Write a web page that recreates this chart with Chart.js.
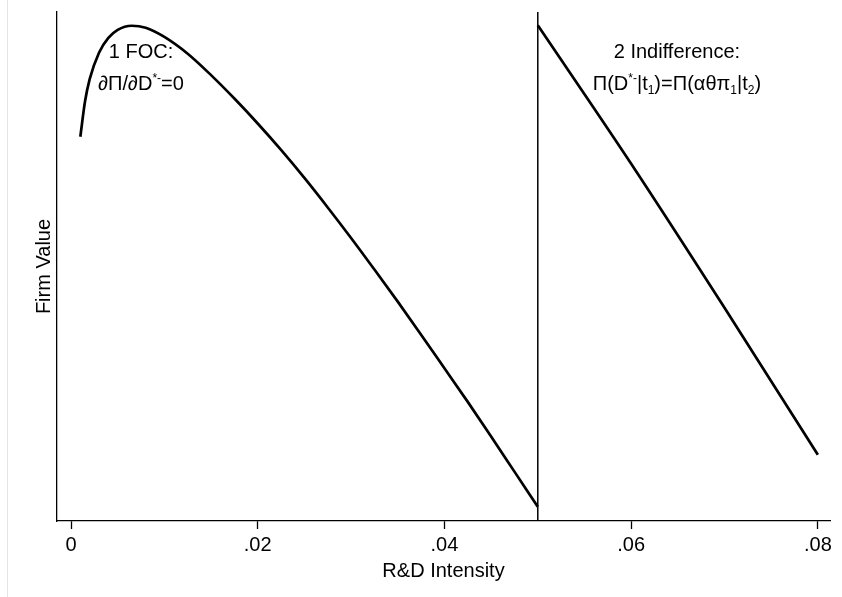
<!DOCTYPE html>
<html>
<head>
<meta charset="utf-8">
<title>Firm Value vs R&D Intensity</title>
<script src="https://cdn.jsdelivr.net/npm/chart.js@4/dist/chart.umd.min.js"></script>
<style>
  html, body { margin: 0; padding: 0; background: #fff; }
  canvas { display: block; }
</style>
</head>
<body>
<canvas id="grafico" width="842" height="597"></canvas>
<script>
// tick marks on the x axis
const xTicks = [0, 0.02, 0.04, 0.06, 0.08];
const xTickLabels = ['0', '.02', '.04', '.06', '.08'];

// 1 FOC curve
const focX = [0.0010, 0.0015, 0.0020, 0.0030, 0.0040, 0.0050, 0.0065, 0.0080, 0.0100,
              0.0125, 0.0150, 0.0175, 0.0200, 0.0225, 0.0250, 0.0275, 0.0300, 0.0325,
              0.0350, 0.0375, 0.0400, 0.0425, 0.0450, 0.0475, 0.0500];
const focY = [75.5, 82.4, 86.8, 92.0, 94.9, 96.5, 97.3, 96.9, 95.1,
              91.8, 87.6, 83.0, 78.1, 72.9, 67.4, 61.6, 55.6, 49.4,
              43.1, 36.6, 30.0, 23.4, 16.6, 9.7, 2.8];

// 2 Indifference line
const indX = [0.05, 0.06, 0.07, 0.08];
const indY = [97.4, 70.2, 41.9, 13.0];

// cutoff at .05
const cutX = [0.05, 0.05];
const cutY = [0, 100];

// notes: position in data units, lines made of rich text pieces
const notaFoc = { x: 0.0075, y: 89.2, lines: [
  [['1 FOC:', '']],
  [['∂Π/∂D', ''], ['*-', 'sup'], ['=0', '']]
]};
const notaInd = { x: 0.0649, y: 89.2, lines: [
  [['2 Indifference:', '']],
  [['Π(D', ''], ['*-', 'sup'], ['|t', ''], ['1', 'sub'], [')=Π(αθπ', ''], ['1', 'sub'], ['|t', ''], ['2', 'sub'], [')', '']]
]};

const fuente = '"Liberation Sans", Arial, Helvetica, sans-serif';

function puntos(xs, ys) {
  return xs.map((x, i) => ({ x: x, y: ys[i] }));
}

// draw the two text notes at data positions
const notasPlugin = {
  id: 'notas',
  afterDatasetsDraw(chart) {
    const ctx = chart.ctx;
    const sx = chart.scales.x, sy = chart.scales.y;
    [notaFoc, notaInd].forEach(n => {
      const cx = sx.getPixelForValue(n.x);
      const cy = sy.getPixelForValue(n.y);
      const lineGap = 32;
      const base0 = cy - lineGap / 2 + 7;
      n.lines.forEach((partes, li) => {
        ctx.save();
        ctx.fillStyle = '#000';
        ctx.textBaseline = 'alphabetic';
        ctx.textAlign = 'left';
        let total = 0;
        partes.forEach(([t, tipo]) => {
          ctx.font = (tipo ? '12px ' : '20px ') + fuente;
          total += ctx.measureText(t).width;
        });
        let x = cx - total / 2;
        const base = base0 + li * lineGap;
        partes.forEach(([t, tipo]) => {
          ctx.font = (tipo ? '12px ' : '20px ') + fuente;
          let dy = 0;
          if (tipo === 'sup') dy = -8;
          if (tipo === 'sub') dy = 4;
          ctx.fillText(t, x, base + dy);
          x += ctx.measureText(t).width;
        });
        ctx.restore();
      });
    });
  }
};

// faint outer border on the left, as in the original
const bordePlugin = {
  id: 'borde',
  beforeDraw(chart) {
    const ctx = chart.ctx;
    ctx.save();
    ctx.fillStyle = '#fff';
    ctx.fillRect(0, 0, chart.width, chart.height);
    ctx.strokeStyle = '#e4e4e4';
    ctx.lineWidth = 1;
    ctx.beginPath();
    ctx.moveTo(7.5, 0);
    ctx.lineTo(7.5, chart.height);
    ctx.stroke();
    ctx.restore();
  }
};

new Chart(document.getElementById('grafico'), {
  type: 'scatter',
  data: {
    datasets: [
      {
        label: '1 FOC',
        data: puntos(focX, focY),
        showLine: true,
        borderColor: '#000',
        borderWidth: 2.7,
        pointRadius: 0,
        cubicInterpolationMode: 'monotone'
      },
      {
        label: '2 Indifference',
        data: puntos(indX, indY),
        showLine: true,
        borderColor: '#000',
        borderWidth: 2.7,
        pointRadius: 0,
        cubicInterpolationMode: 'monotone'
      },
      {
        label: 'cutoff',
        data: puntos(cutX, cutY),
        showLine: true,
        borderColor: '#000',
        borderWidth: 1.5,
        pointRadius: 0,
        tension: 0
      }
    ]
  },
  options: {
    responsive: false,
    animation: false,
    devicePixelRatio: 1,
    layout: { padding: { left: 0, right: 12, top: 12, bottom: 0 } },
    plugins: {
      legend: { display: false },
      tooltip: { enabled: false }
    },
    scales: {
      x: {
        type: 'linear',
        min: -0.0015,
        max: 0.0813,
        afterBuildTicks: scale => {
          scale.ticks = xTicks.map(v => ({ value: v }));
        },
        afterFit: scale => {
          scale.height = 76;
          scale.paddingLeft = 0;
          scale.paddingRight = 0;
        },
        ticks: {
          autoSkip: false,
          maxRotation: 0,
          padding: 4,
          color: '#000',
          font: { family: fuente, size: 20 },
          callback: v => xTickLabels[xTicks.indexOf(v)]
        },
        grid: {
          drawOnChartArea: false,
          drawTicks: true,
          tickLength: 8,
          tickWidth: 1.3,
          tickColor: '#000'
        },
        border: { display: true, color: '#000', width: 1.3 },
        title: {
          display: true,
          text: 'R&D Intensity',
          color: '#000',
          font: { family: fuente, size: 20 },
          padding: { top: 0, bottom: 14 }
        }
      },
      y: {
        type: 'linear',
        min: 0,
        max: 100,
        afterFit: scale => {
          scale.width = 57;
          scale.paddingTop = 0;
          scale.paddingBottom = 0;
        },
        ticks: { display: false },
        grid: { display: false },
        border: { display: true, color: '#000', width: 1.3 },
        title: {
          display: true,
          text: 'Firm Value',
          color: '#000',
          font: { family: fuente, size: 20 },
          padding: { top: 32, bottom: 0 }
        }
      }
    }
  },
  plugins: [bordePlugin, notasPlugin]
});
</script>
</body>
</html>
